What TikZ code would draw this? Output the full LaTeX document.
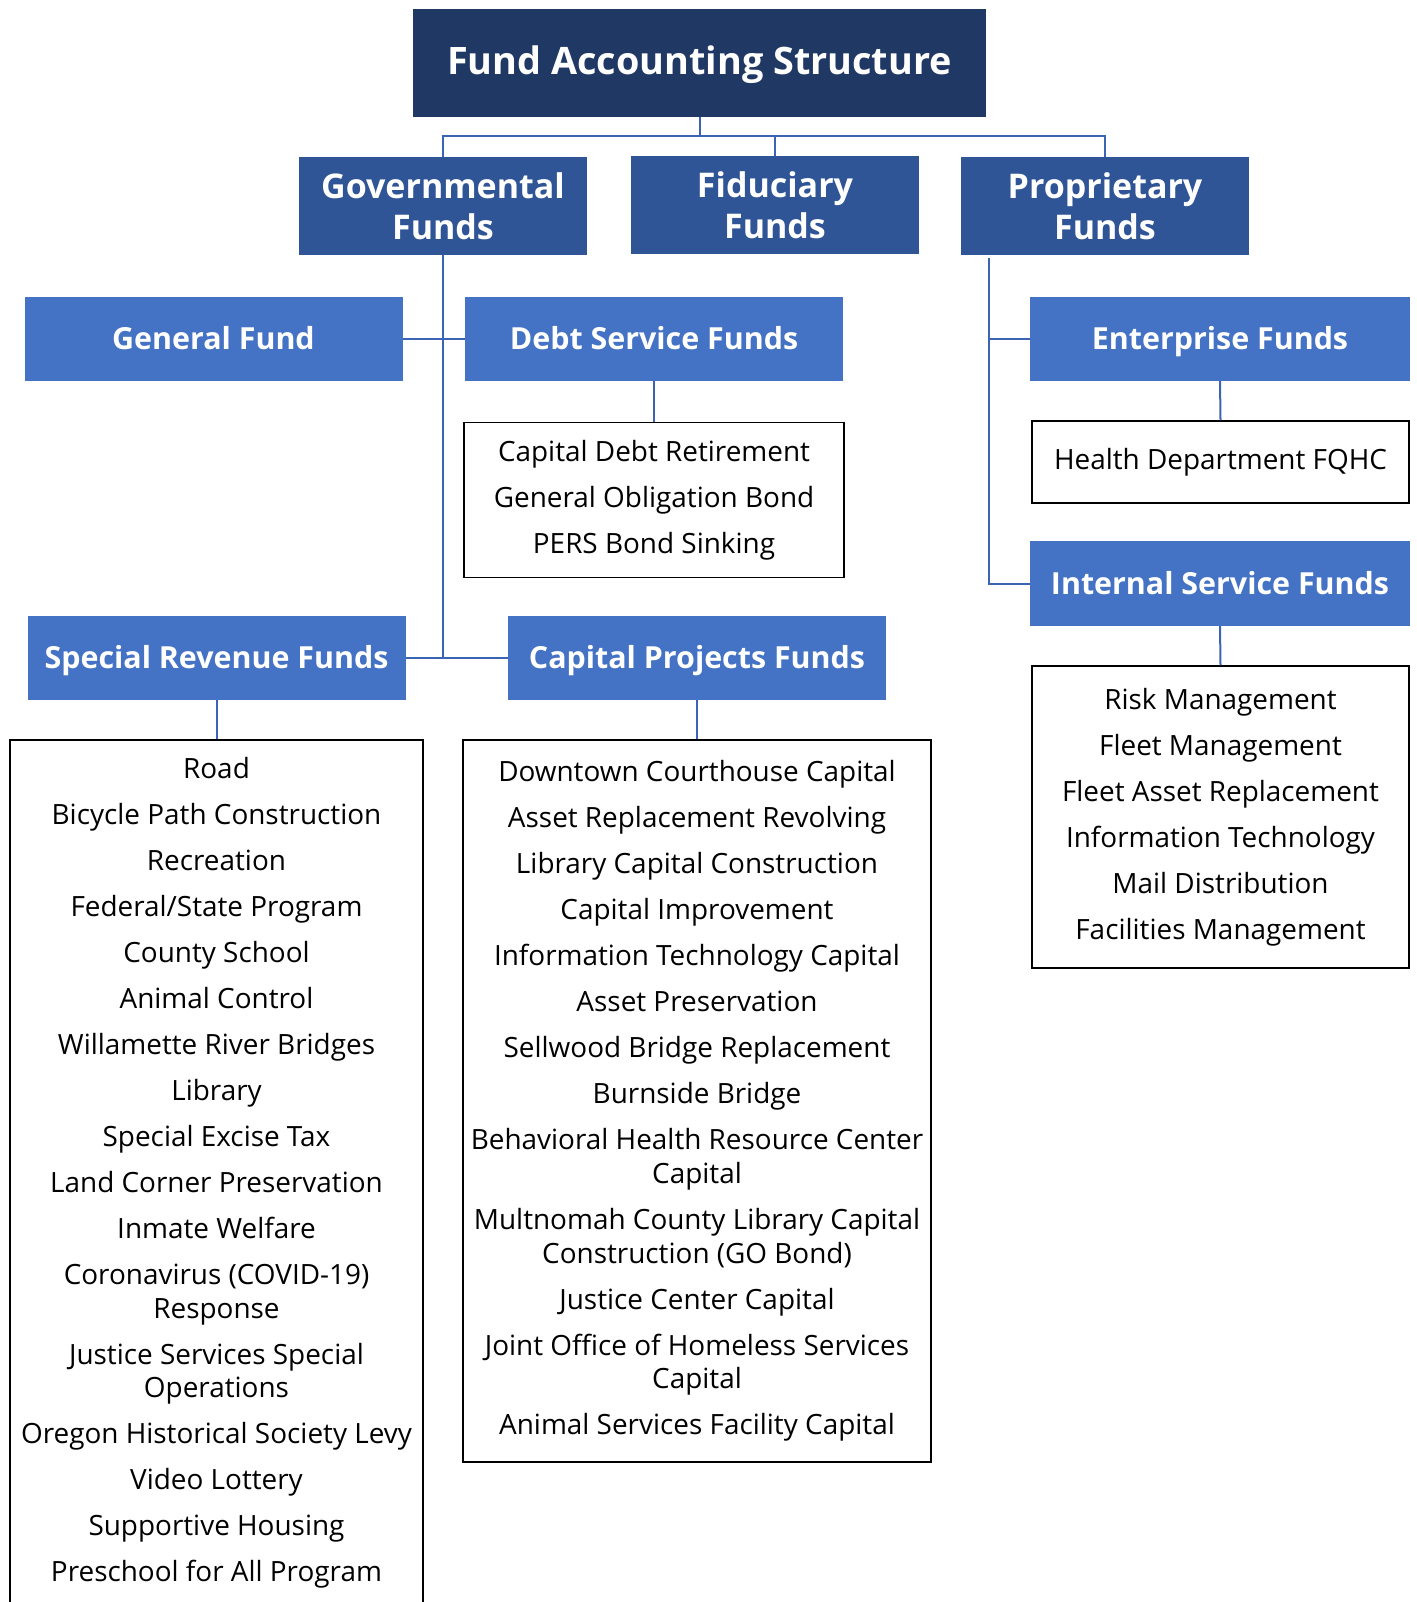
\documentclass[tikz,border=0pt]{standalone}
\usepackage{fontspec}
\setmainfont{Open Sans}
\usetikzlibrary{calc}
\definecolor{fa_navy}{RGB}{32, 56, 100}
\definecolor{fa_mid}{RGB}{47, 85, 151}
\definecolor{fa_light}{RGB}{68, 114, 196}
\definecolor{fa_line}{RGB}{60, 100, 180}
\tikzstyle{tb}=[rectangle,fill=fa_navy,draw=none,text=white,inner sep=0pt,
  text height=29pt,text depth=6pt,
  font=\fontsize{37.8}{42}\selectfont\bfseries,minimum width=573pt,minimum height=108pt]
\tikzstyle{mb}=[rectangle,fill=fa_mid,draw=none,text=white,inner sep=0pt,align=center,
  font=\fontsize{34}{41}\selectfont\bfseries,minimum width=288pt,minimum height=98pt]
\tikzstyle{lb}=[rectangle,fill=fa_light,draw=none,text=white,inner sep=0pt,
  text height=25pt,text depth=4pt,
  font=\fontsize{30.4}{35}\selectfont\bfseries,minimum width=378pt,minimum height=84pt]
\tikzstyle{listb}=[rectangle,fill=white,draw=black,line width=1.5pt,inner sep=0pt,
  align=center,font=\fontsize{27.9}{33.7}\selectfont]
\tikzstyle{conn}=[draw=fa_line,line width=2pt]

\begin{document}
\begin{tikzpicture}[x=1pt,y=-1pt]
        \clip (0,0) rectangle (1416,1602);
        \node[style=tb] (title) at (699.5,63) {Fund Accounting Structure};
        \node[style=mb] (gov) at (443,206) {Governmental\\Funds};
        \node[style=mb] (fid) at (775,205.5) {Fiduciary\\Funds};
        \node[style=mb] (prop) at (1105,206) {Proprietary\\Funds};
        \node[style=lb] (gen) at (213.5,339) {General Fund};
        \node[style=lb] (debt) at (654,339) {Debt Service Funds};
        \node[style=lb] (sr) at (216.5,658) {Special Revenue Funds};
        \node[style=lb] (cp) at (697,658) {Capital Projects Funds};
        \node[style=lb,minimum width=380pt] (ent) at (1220,339) {Enterprise Funds};
        \node[style=lb,minimum width=380pt,minimum height=85pt] (isf) at (1220,583.5) {Internal Service Funds};
        \node[style=listb,minimum width=380pt,minimum height=155pt] (debtlist) at (654,500)
          {Capital Debt Retirement\\[12.3pt]General Obligation Bond\\[12.3pt]PERS Bond Sinking};
        \node[style=listb,minimum width=377pt,minimum height=82pt] (health) at (1220.5,462)
          {Health Department FQHC};
        \node[style=listb,minimum width=377pt,minimum height=302pt] (isflist) at (1220.5,817)
          {Risk Management\\[12.3pt]Fleet Management\\[12.3pt]Fleet Asset Replacement\\[12.3pt]%
           Information Technology\\[12.3pt]Mail Distribution\\[12.3pt]Facilities Management};
        \node[style=listb,minimum width=413pt,minimum height=866pt] (srlist) at (216.5,1173)
          {Road\\[12.3pt]Bicycle Path Construction\\[12.3pt]Recreation\\[12.3pt]%
           Federal/State Program\\[12.3pt]County School\\[12.3pt]Animal Control\\[12.3pt]%
           Willamette River Bridges\\[12.3pt]Library\\[12.3pt]Special Excise Tax\\[12.3pt]%
           Land Corner Preservation\\[12.3pt]Inmate Welfare\\[12.3pt]%
           Coronavirus (COVID-19)\\Response\\[12.3pt]Justice Services Special\\Operations\\[12.3pt]%
           Oregon Historical Society Levy\\[12.3pt]Video Lottery\\[12.3pt]%
           Supportive Housing\\[12.3pt]Preschool for All Program};
        \node[style=listb,minimum width=468pt,minimum height=722pt] (cplist) at (697,1101)
          {Downtown Courthouse Capital\\[12.3pt]Asset Replacement Revolving\\[12.3pt]%
           Library Capital Construction\\[12.3pt]Capital Improvement\\[12.3pt]%
           Information Technology Capital\\[12.3pt]Asset Preservation\\[12.3pt]%
           Sellwood Bridge Replacement\\[12.3pt]Burnside Bridge\\[12.3pt]%
           Behavioral Health Resource Center\\Capital\\[12.3pt]%
           Multnomah County Library Capital\\Construction (GO Bond)\\[12.3pt]%
           Justice Center Capital\\[12.3pt]Joint Office of Homeless Services\\Capital\\[12.3pt]%
           Animal Services Facility Capital};
        \coordinate (bus) at (699.5,136);
        \coordinate (ptrunk) at (989,258);
        \draw[style=conn] (title.south) -- (bus);
        \draw[style=conn] (gov.north) |- (bus) -| (prop.north);
        \draw[style=conn] (fid.north) -- (fid.north |- bus);
        \draw[style=conn] (gov.south) -- (gov.south |- sr.east);
        \draw[style=conn] (gen.east) -- (debt.west);
        \draw[style=conn] (sr.east) -- (cp.west);
        \draw[style=conn] (debt.south) -- (debtlist.north);
        \draw[style=conn] (sr.south) -- (srlist.north);
        \draw[style=conn] (cp.south) -- (cplist.north);
        \draw[style=conn] (ptrunk) |- (ent.west);
        \draw[style=conn] (ptrunk) |- (isf.west);
        \draw[style=conn] (ent.south) -- (health.north);
        \draw[style=conn] (isf.south) -- (isflist.north);
    \end{tikzpicture}
\end{document}
